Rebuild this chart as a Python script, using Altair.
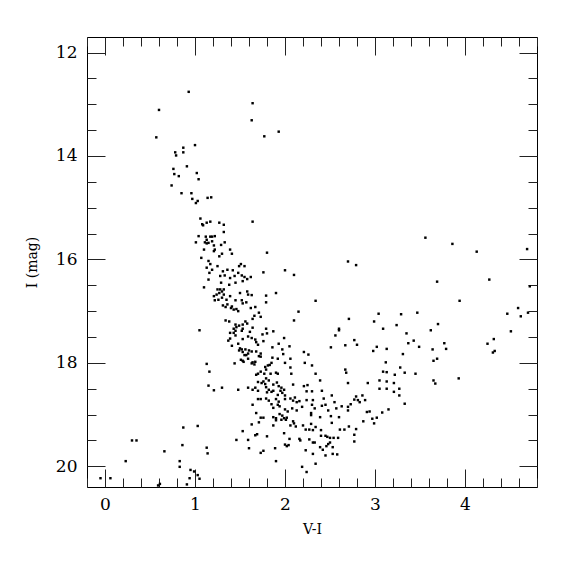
import altair as alt
import pandas as pd

# ---- data: V-I colour and I magnitude ----
upper_vi = [0.93,1.64,0.60,1.63,0.57,1.00,0.87,0.78,0.87,0.79,0.91,0.76,1.02,0.77,0.82,1.04,0.74,0.85,0.96,0.97,1.03,1.01,1.14,1.18,1.06,1.08,1.09,1.13,1.17,1.27,1.32,1.64,1.77,1.93]
upper_i = [12.76,12.98,13.11,13.31,13.64,13.79,13.84,13.93,13.93,13.99,14.20,14.25,14.33,14.35,14.39,14.45,14.57,14.72,14.72,14.83,14.87,14.91,14.81,14.80,15.21,15.32,15.34,15.29,15.27,15.29,15.33,15.27,13.62,13.53]

low_left_vi = [-0.05,0.06,0.23,0.30,0.35,0.59,0.61,0.66,0.83,0.83,0.86,0.87,0.91,0.94,0.95,0.99,1.03,1.03,1.05,1.13,1.14,1.46,1.53,1.59,1.60,1.63,1.67,1.69,1.71]
low_left_i = [20.23,20.23,19.90,19.50,19.50,20.37,20.34,19.71,19.90,20.01,19.59,19.25,20.35,20.23,20.07,20.10,19.22,20.17,20.24,19.64,19.75,19.49,19.32,19.49,19.65,19.19,19.40,19.38,19.15]

rgb_a_vi = [1.32,1.04,1.12,1.17,1.19,1.22,1.13,1.11,1.13,1.15,1.19,1.01,1.21,1.29,1.33,1.22,1.10,1.21,1.39,1.41,1.30,1.27,1.07,1.15,1.17,1.13,1.25,1.19,1.16,1.51,1.49,1.55,1.36,1.31,1.42,1.33,1.28,1.48,1.52,1.15,1.39,1.44,1.55,1.62,1.58,1.29,1.45,1.38,1.32,1.53,1.10,1.25,1.28,1.30,1.27,1.24,1.32,1.21,1.30,1.26,1.22,1.35,1.39,1.50,1.58,1.59,1.63,1.45,1.52,1.31,1.34,1.36,1.40,1.43,1.46,1.48,1.41,1.53,1.57,1.62,1.67,1.71,1.66,1.64,1.34,1.38,1.45,1.46,1.49,1.43,1.53,1.56,1.58,1.64,1.53]
rgb_a_i = [15.47,15.55,15.56,15.56,15.56,15.55,15.62,15.67,15.69,15.68,15.65,15.67,15.73,15.72,15.67,15.81,15.81,15.84,15.81,15.89,15.89,15.94,15.97,16.03,16.09,16.16,16.13,16.20,16.26,16.09,16.13,16.13,16.20,16.23,16.21,16.31,16.32,16.26,16.31,16.39,16.36,16.32,16.34,16.34,16.38,16.45,16.45,16.49,16.58,16.42,16.54,16.58,16.58,16.62,16.65,16.68,16.68,16.71,16.74,16.78,16.79,16.78,16.71,16.65,16.62,16.68,16.69,16.79,16.79,16.89,16.92,16.87,16.94,16.97,16.96,17.00,16.91,16.85,16.83,16.94,16.92,17.03,17.09,17.15,17.18,17.20,17.26,17.31,17.28,17.34,17.26,17.20,17.24,17.32,17.34]

rgb_b_vi = [1.05,1.45,1.52,1.61,1.39,1.43,1.45,1.59,1.63,1.67,1.53,1.39,1.37,1.68,1.70,1.41,1.48,1.50,1.52,1.56,1.60,1.49,1.53,1.59,1.63,1.57,1.55,1.68,1.71,1.59,1.51,1.53,1.54,1.64,1.67,1.66,1.63,1.44,1.13,1.16,1.68,1.70,1.70,1.15,1.21,1.30,1.48,1.59,1.64,1.67,1.70,1.70,1.64,1.68]
rgb_b_i = [17.37,17.38,17.38,17.40,17.42,17.42,17.47,17.49,17.52,17.55,17.54,17.53,17.57,17.60,17.65,17.67,17.63,17.72,17.74,17.74,17.76,17.76,17.79,17.82,17.78,17.85,17.85,17.78,17.87,17.92,17.94,17.96,17.98,17.99,17.98,18.03,18.01,18.01,18.02,18.17,18.23,18.21,18.37,18.44,18.53,18.48,18.52,18.48,18.52,18.48,18.54,18.70,18.81,18.97]

mid_top_vi = [1.80,1.76,2.00,2.10,2.70,2.79,1.79,1.90,1.79,2.34,2.15,1.73,2.10,2.71,1.79,2.60]
mid_top_i = [15.87,16.25,16.21,16.30,16.04,16.11,16.70,16.65,16.83,16.80,17.01,17.11,17.18,17.15,17.34,17.34]

mid_vi = [1.75,1.80,1.87,2.56,2.60,1.99,1.76,1.93,2.05,1.86,1.97,2.51,2.67,2.77,2.80,2.21,2.26,1.98,1.73,1.73,1.86,1.92,2.06,2.22,2.30,1.85,1.83,1.81,1.78,2.00,2.06,2.07,2.34,2.67,2.68,1.79,1.73,1.77,1.84,1.90,1.92,1.79,1.76,1.82,1.78,1.74,1.91,1.87,1.93,1.96,1.99,2.09,2.21,2.25,2.39,2.70,1.79,1.82,1.85,1.80,1.87,1.95,1.97,1.92,2.00,1.73,1.79,1.90,1.82,1.93,2.00,2.06,2.09,2.11,2.13,2.24,2.30,2.41,2.16,2.24,2.31,2.43,2.52,2.55,2.63,2.70,2.73,2.77,2.79,2.81,1.85,1.92,1.94,1.87,2.00,2.03,2.08,2.13,2.19,2.30,2.33,2.29,2.41,2.45,2.48,2.57,2.70,2.51,2.60,1.73,1.76,1.87,1.90,1.94,1.97,1.99,2.02,2.29,2.39]
mid_i = [17.45,17.43,17.39,17.47,17.37,17.52,17.58,17.63,17.68,17.70,17.74,17.70,17.66,17.56,17.65,17.79,17.84,17.83,17.82,17.88,17.90,17.92,17.92,18.00,18.05,18.00,18.04,18.05,18.08,18.00,18.09,18.21,18.21,18.13,18.19,18.13,18.17,18.21,18.21,18.19,18.21,18.30,18.36,18.34,18.41,18.39,18.38,18.42,18.45,18.48,18.52,18.42,18.45,18.43,18.34,18.39,18.47,18.52,18.56,18.57,18.54,18.54,18.58,18.62,18.63,18.70,18.69,18.70,18.73,18.75,18.70,18.69,18.73,18.67,18.76,18.55,18.55,18.54,18.74,18.72,18.72,18.69,18.63,18.76,18.84,18.85,18.80,18.71,18.65,18.72,18.80,18.81,18.84,18.87,18.90,18.94,18.88,18.92,18.85,18.81,18.88,18.97,18.83,18.81,18.92,18.88,18.92,19.03,19.05,19.06,19.06,19.05,19.07,18.99,19.02,19.07,19.06,19.01,19.05]

mid_low_vi = [1.90,1.96,2.01,2.09,2.10,2.12,2.06,1.87,2.20,2.29,2.34,2.23,2.27,2.31,2.40,2.52,2.61,2.66,2.71,2.79,1.99,1.80,2.40,2.45,2.47,2.50,2.54,2.59,2.05,2.16,2.17,2.27,2.31,2.33,2.50,2.48,2.46,2.53,2.77,2.77,2.00,2.02,2.04,1.89,1.76,1.73,2.23,2.39,2.42,2.31,2.45,2.53,2.58,1.90,2.34,2.19,2.24]
mid_low_i = [19.11,19.10,19.10,19.13,19.17,19.23,19.21,19.21,19.21,19.18,19.24,19.29,19.29,19.30,19.30,19.16,19.29,19.29,19.23,19.28,19.36,19.42,19.41,19.41,19.43,19.45,19.45,19.45,19.47,19.47,19.50,19.48,19.54,19.54,19.54,19.57,19.61,19.63,19.39,19.52,19.58,19.61,19.59,19.65,19.70,19.74,19.69,19.63,19.68,19.76,19.79,19.76,19.77,19.90,19.95,20.01,20.11]

red_top_vi = [3.56,3.86,4.13,4.69,3.69,4.27,4.72,3.94,4.59,4.47,4.62,4.70,3.04,3.29,3.47,2.99,3.24,3.70,3.09,3.62,4.51,3.35,4.32,3.43,3.37,3.77,4.25,3.49,3.02,3.13,3.64,3.79,2.98,4.33,4.31,3.31,3.69]
red_top_i = [15.58,15.70,15.85,15.80,16.43,16.39,16.52,16.80,16.94,17.05,17.10,17.03,17.05,17.06,17.03,17.20,17.27,17.25,17.34,17.37,17.39,17.43,17.54,17.57,17.62,17.62,17.63,17.69,17.69,17.73,17.74,17.73,17.77,17.77,17.80,17.83,17.92]

red_low_vi = [3.12,3.65,3.28,3.09,3.13,3.22,3.33,3.45,3.65,3.67,3.93,2.92,3.05,3.13,3.21,3.05,3.13,3.27,3.21,3.27,2.86,2.89,2.83,3.33,2.91,2.94,3.08,3.15,2.87,2.97,3.02,2.99]
red_low_i = [17.99,17.96,18.09,18.17,18.18,18.23,18.19,18.21,18.34,18.40,18.30,18.39,18.34,18.36,18.39,18.50,18.50,18.50,18.56,18.63,18.63,18.72,18.76,18.79,18.95,18.94,18.96,18.90,19.13,19.08,19.06,19.17]

vi = upper_vi + low_left_vi + rgb_a_vi + rgb_b_vi + mid_top_vi + mid_vi + mid_low_vi + red_top_vi + red_low_vi
imag = upper_i + low_left_i + rgb_a_i + rgb_b_i + mid_top_i + mid_i + mid_low_i + red_top_i + red_low_i

x_major = [0, 1, 2, 3, 4]
x_minor = [-0.2, 0.2, 0.4, 0.6, 0.8, 1.2, 1.4, 1.6, 1.8, 2.2, 2.4, 2.6, 2.8,
           3.2, 3.4, 3.6, 3.8, 4.2, 4.4, 4.6, 4.8]
y_major = [12, 14, 16, 18, 20]
y_minor = [12.5, 13, 13.5, 14.5, 15, 15.5, 16.5, 17, 17.5, 18.5, 19, 19.5]

df = pd.DataFrame({"vi": vi, "imag": imag})

FONT = "DejaVu Serif"
xs = alt.Scale(domain=[-0.2, 4.8], nice=False, zero=False)
ys = alt.Scale(domain=[11.7, 20.4], nice=False, zero=False, reverse=True)

points = alt.Chart(df).mark_square(size=6, color="black", opacity=1).encode(
    x=alt.X("vi:Q", scale=xs, axis=alt.Axis(
        values=x_major, ticks=False, domain=False, grid=False, title="V-I",
        labelFont=FONT, labelFontSize=17, labelPadding=9, labelColor="black",
        titleFont=FONT, titleFontSize=14, titleFontWeight="normal",
        titleColor="black", titlePadding=10, format="d")),
    y=alt.Y("imag:Q", scale=ys, axis=alt.Axis(
        values=y_major, ticks=False, domain=False, grid=False, title="I (mag)",
        labelFont=FONT, labelFontSize=17, labelPadding=10, labelColor="black",
        titleFont=FONT, titleFontSize=14, titleFontWeight="normal",
        titleColor="black", titlePadding=16, format="d")),
)


def tick_layer(channel, orient, values, size):
    ax = alt.Axis(orient=orient, values=values, tickSize=size, offset=-size,
                  labels=False, domain=False, grid=False, title=None,
                  tickColor="#222", tickWidth=1)
    if channel == "x":
        enc = dict(x=alt.X("vi:Q", scale=xs, axis=ax),
                   y=alt.Y("imag:Q", scale=ys, axis=None))
    else:
        enc = dict(x=alt.X("vi:Q", scale=xs, axis=None),
                   y=alt.Y("imag:Q", scale=ys, axis=ax))
    return alt.Chart(df).mark_point(opacity=0).encode(**enc)


layers = [points]
for orient in ["bottom", "top"]:
    layers.append(tick_layer("x", orient, x_major, 18))
    layers.append(tick_layer("x", orient, x_minor, 9))
for orient in ["left", "right"]:
    layers.append(tick_layer("y", orient, y_major, 18))
    layers.append(tick_layer("y", orient, y_minor, 9))

chart = alt.layer(*layers).resolve_axis(x="independent", y="independent").properties(
    width=450, height=450,
    autosize=alt.AutoSizeParams(type="none"),
    padding={"left": 79, "top": 29, "right": 30, "bottom": 80},
    background="white",
).configure_view(stroke="black", strokeWidth=1)

chart.save("out.html", embed_options={"renderer": "svg", "actions": False})
